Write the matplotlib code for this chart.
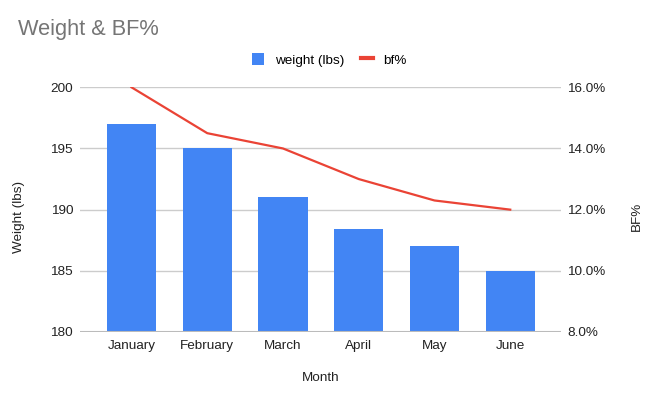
import matplotlib
matplotlib.use("Agg")
import matplotlib.pyplot as plt
from matplotlib.ticker import FuncFormatter
from matplotlib.patches import Patch
from matplotlib.lines import Line2D

plt.rcParams['font.family'] = ['Liberation Sans', 'DejaVu Sans']

months = ["January", "February", "March", "April", "May", "June"]
weight = [197, 195, 191, 188.4, 187, 185]
bf = [16.0, 14.5, 14.0, 13.0, 12.3, 12.0]
left_ticks = [180, 185, 190, 195, 200]
right_ticks = [8, 10, 12, 14, 16]

W, H = 656, 404
fig = plt.figure(figsize=(W/100, H/100), dpi=100)
ax = fig.add_axes([80/W, 1-332/H, (561-80)/W, (332-87.3)/H])
ax2 = ax.twinx()

x = list(range(len(months)))
ax.bar(x, weight, width=0.65, color='#4285f4', zorder=3, bottom=0)
ax.set_ylim(180, 200)
ax.set_yticks(left_ticks)
ax.set_xlim(-0.68, 5.67)
ax.set_xticks(x)
ax.set_xticklabels(months)
ax.grid(axis='y', color='#cccccc', linewidth=1, zorder=0)
ax.axhline(180, color='#bbbbbb', linewidth=1.5, zorder=4)

ax2.plot(x, bf, color='#ea4335', linewidth=1.6, zorder=5)
ax2.set_ylim(8, 16)
ax2.set_yticks(right_ticks)
ax2.yaxis.set_major_formatter(FuncFormatter(lambda v, p: f"{v:.1f}%"))

for a in (ax, ax2):
    for s in a.spines.values():
        s.set_visible(False)
    a.tick_params(length=0, labelsize=9.7, colors='#222222')
ax.tick_params(axis='y', pad=5)
ax2.tick_params(axis='y', pad=4.5)
ax.tick_params(axis='x', pad=6)

ax.set_ylabel("Weight (lbs)", fontsize=9.7, color='#222222')
ax2.set_ylabel("BF%", fontsize=9.7, color='#222222')
ax.yaxis.set_label_coords((25-80)/481, 0.471)
ax2.yaxis.set_label_coords((631-80)/481, 0.474)
ax.set_xlabel("Month", fontsize=9.7, color='#222222', labelpad=14)

fig.text(18/W, 1-29/H, "Weight & BF%", fontsize=15.7, color='#757575', va='center', ha='left')

handles = [Patch(facecolor='#4285f4', edgecolor='none'),
           Line2D([0], [0], color='#ea4335', linewidth=3)]
fig.legend(handles, ["weight (lbs)", "bf%"], loc='center', bbox_to_anchor=(329.5/W, 1-60/H),
           ncol=2, frameon=False, fontsize=9.7, handlelength=0.9, handleheight=0.9,
           columnspacing=1.2, handletextpad=0.8)

fig.savefig("out.png", dpi=100)
